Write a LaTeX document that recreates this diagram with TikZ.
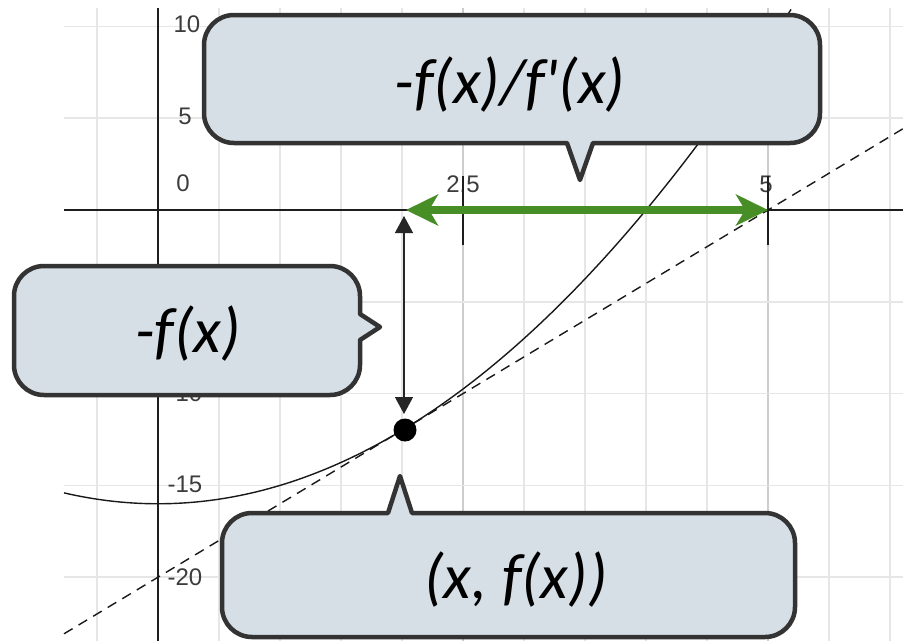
\documentclass[tikz,border=0pt]{standalone}
\usepackage{fontspec}
\setmainfont{Carlito}
\newfontfamily\axisfont{Liberation Sans}
\usetikzlibrary{arrows.meta}
\definecolor{gridc}{RGB}{230,230,230}
\definecolor{gridd}{RGB}{205,205,205}
\definecolor{axisc}{RGB}{30,30,30}
\definecolor{labc}{RGB}{60,60,60}
\definecolor{greenc}{RGB}{72,142,38}
\definecolor{callfill}{RGB}{214,222,230}
\definecolor{callline}{RGB}{51,51,51}
\tikzset{
  gridline/.style={gridc, line width=1.5pt},
  axisline/.style={axisc, line width=2pt},
  axlab/.style={text=labc, font=\axisfont\fontsize{24}{24}\selectfont, inner sep=0pt},
  callbox/.style={fill=callfill, draw=callline, line width=4.5pt, line join=round},
  calltext/.style={font=\itshape\fontsize{64}{66}\selectfont, text=black, inner sep=0pt},
  curveline/.style={black!90, line width=1.4pt},
}
\begin{document}
\begin{tikzpicture}[x=1pt, y=-1pt]
\useasboundingbox (0,0) rectangle (903,641);
\fill[white] (0,0) rectangle (903,641);
% grid
\foreach \gx in {97,219,280,341,402,524,585,646,707,829,890}
  \draw[gridline] (\gx,8) -- (\gx,641);
\foreach \gx in {463,768}
  \draw[gridline, draw=gridd] (\gx,8) -- (\gx,641);
\foreach \gy in {26.4,118.2,301.8,393.6,485.4,577.2}
  \draw[gridline] (64,\gy) -- (903,\gy);
% axes
\draw[axisline] (64,210) -- (903,210);
\draw[axisline] (158,8) -- (158,641);
% labels
\node[axlab] (l10) at (187,24.5) {10};
\node[axlab] (l5) at (185,116) {5};
\node[axlab] (l0) at (183,183) {0};
\node[axlab] (lm10) at (185,393) {-10};
\node[axlab] (lm15) at (185,484) {-15};
\node[axlab] (lm20) at (185,577) {-20};
\node[axlab] (x25) at (463,184) {2.5};
\node[axlab] (x5) at (766,184) {5};
% ticks
\draw[axisline] (463,176) -- (463,245);
\draw[axisline] (768,176) -- (768,245);
% curve and tangent
\draw[curveline] plot[domain=-0.77:5.19, samples=150] ({158+122*\x},{210-18.36*(\x*\x-16)});
\draw[curveline, dash pattern=on 10pt off 7pt] (64,633.8) -- (903,128.7);
% vertical arrow
\node[circle, fill=black, minimum size=23pt, inner sep=0pt] (pt) at (405,430) {};
\coordinate (vTop) at (404,216);
\coordinate (vBot) at (404,414);
\draw[line width=1.3pt, black!85, {Triangle[width=18pt,length=17pt]}-{Triangle[width=18pt,length=17pt]}] (vTop) -- (vBot);
% green arrow
\coordinate (gL) at (406,210);
\coordinate (gR) at (768,210);
\draw[greenc, line width=8pt, {Stealth[length=32pt,width=31pt,inset=9pt]}-{Stealth[length=32pt,width=31pt,inset=9pt]}] (gL) -- (gR);
% callouts
\draw[callbox] (234,15) -- (790,15) arc[start angle=-90, end angle=0, radius=30]
  -- (820,113) arc[start angle=0, end angle=90, radius=30]
  -- (593,143) -- (580,180) -- (567,143)
  -- (234,143) arc[start angle=90, end angle=180, radius=30]
  -- (204,45) arc[start angle=180, end angle=270, radius=30] -- cycle;
\draw[callbox] (44,266) -- (330,266) arc[start angle=-90, end angle=0, radius=30]
  -- (360,314) -- (380,327) -- (360,340)
  -- (360,365) arc[start angle=0, end angle=90, radius=30]
  -- (44,395) arc[start angle=90, end angle=180, radius=30]
  -- (14,296) arc[start angle=180, end angle=270, radius=30] -- cycle;
\draw[callbox] (252,513) -- (388,513) -- (400,476) -- (412,513)
  -- (765,513) arc[start angle=-90, end angle=0, radius=30]
  -- (795,607) arc[start angle=0, end angle=90, radius=30]
  -- (252,637) arc[start angle=90, end angle=180, radius=30]
  -- (222,543) arc[start angle=180, end angle=270, radius=30] -- cycle;
\node[calltext] (ratio) at (510,85) {-f(x)/f\textquotesingle(x)};
\node[calltext] (negf) at (188,334) {-f(x)};
\node[calltext] (point) at (516,580) {(x, f(x))};
\end{tikzpicture}
\end{document}
